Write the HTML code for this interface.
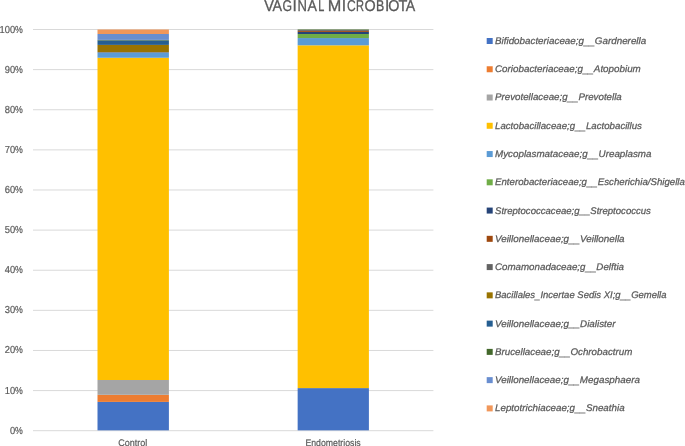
<!DOCTYPE html>
<html><head><meta charset="utf-8"><style>
html,body{margin:0;padding:0;background:#fff;width:685px;height:446px;overflow:hidden}
svg{position:absolute;left:0;top:0}
text{font-family:"Liberation Sans",sans-serif;fill:#595959;text-rendering:geometricPrecision}
.tx{will-change:transform}
.xl{font-size:9.6px !important}
.ax{font-size:10.2px;stroke:#595959;stroke-width:0.2px}
.lg{font-size:9.6px;font-style:italic;stroke:#595959;stroke-width:0.25px}
.tt{font-size:15.6px;stroke:#595959;stroke-width:0.3px}
</style></head><body>
<svg width="685" height="446" viewBox="0 0 685 446">
<line x1="33" x2="433.4" y1="29.50" y2="29.50" stroke="#D9D9D9" stroke-width="1"/>
<line x1="33" x2="433.4" y1="69.62" y2="69.62" stroke="#D9D9D9" stroke-width="1"/>
<line x1="33" x2="433.4" y1="109.74" y2="109.74" stroke="#D9D9D9" stroke-width="1"/>
<line x1="33" x2="433.4" y1="149.86" y2="149.86" stroke="#D9D9D9" stroke-width="1"/>
<line x1="33" x2="433.4" y1="189.98" y2="189.98" stroke="#D9D9D9" stroke-width="1"/>
<line x1="33" x2="433.4" y1="230.10" y2="230.10" stroke="#D9D9D9" stroke-width="1"/>
<line x1="33" x2="433.4" y1="270.22" y2="270.22" stroke="#D9D9D9" stroke-width="1"/>
<line x1="33" x2="433.4" y1="310.34" y2="310.34" stroke="#D9D9D9" stroke-width="1"/>
<line x1="33" x2="433.4" y1="350.46" y2="350.46" stroke="#D9D9D9" stroke-width="1"/>
<line x1="33" x2="433.4" y1="390.58" y2="390.58" stroke="#D9D9D9" stroke-width="1"/>
<line x1="33" x2="433.4" y1="430.70" y2="430.70" stroke="#D9D9D9" stroke-width="1"/>
<rect x="97.5" y="401.90" width="71.4" height="28.45" fill="#4472C4"/>
<rect x="97.5" y="394.80" width="71.4" height="7.10" fill="#ED7D31"/>
<rect x="97.5" y="380.00" width="71.4" height="14.80" fill="#A5A5A5"/>
<rect x="97.5" y="57.75" width="71.4" height="322.25" fill="#FFC000"/>
<rect x="97.5" y="52.60" width="71.4" height="5.15" fill="#5B9BD5"/>
<rect x="97.5" y="52.00" width="71.4" height="0.60" fill="#636363"/>
<rect x="97.5" y="44.90" width="71.4" height="7.10" fill="#997300"/>
<rect x="97.5" y="40.40" width="71.4" height="4.50" fill="#255E91"/>
<rect x="97.5" y="39.90" width="71.4" height="0.50" fill="#43682B"/>
<rect x="97.5" y="34.00" width="71.4" height="5.90" fill="#698ED0"/>
<rect x="97.5" y="29.50" width="71.4" height="4.50" fill="#F1975A"/>
<rect x="297.65" y="388.10" width="71.25" height="42.25" fill="#4472C4"/>
<rect x="297.65" y="45.30" width="71.25" height="342.80" fill="#FFC000"/>
<rect x="297.65" y="38.05" width="71.25" height="7.25" fill="#5B9BD5"/>
<rect x="297.65" y="34.00" width="71.25" height="4.05" fill="#70AD47"/>
<rect x="297.65" y="31.90" width="71.25" height="2.10" fill="#264478"/>
<rect x="297.65" y="30.90" width="71.25" height="1.00" fill="#9E480E"/>
<rect x="297.65" y="30.00" width="71.25" height="0.90" fill="#636363"/>
<rect x="297.65" y="29.50" width="71.25" height="0.50" fill="#43682B"/>
</svg>
<svg class="tx" width="685" height="446" viewBox="0 0 685 446">
<text class="tt" transform="translate(264.13,10.5) scale(0.927,1)">V</text>
<text class="tt" transform="translate(272.57,10.5) scale(0.919,1)">A</text>
<text class="tt" transform="translate(282.59,10.5) scale(0.785,1)">G</text>
<text class="tt" transform="translate(292.53,10.5) scale(1.000,1)">I</text>
<text class="tt" transform="translate(297.43,10.5) scale(0.837,1)">N</text>
<text class="tt" transform="translate(307.57,10.5) scale(0.909,1)">A</text>
<text class="tt" transform="translate(318.31,10.5) scale(0.698,1)">L</text>
<text class="tt" transform="translate(327.76,10.5) scale(1.044,1)">M</text>
<text class="tt" transform="translate(341.73,10.5) scale(1.000,1)">I</text>
<text class="tt" transform="translate(346.99,10.5) scale(0.770,1)">C</text>
<text class="tt" transform="translate(356.09,10.5) scale(0.713,1)">R</text>
<text class="tt" transform="translate(364.43,10.5) scale(0.920,1)">O</text>
<text class="tt" transform="translate(376.08,10.5) scale(0.795,1)">B</text>
<text class="tt" transform="translate(384.98,10.5) scale(1.000,1)">I</text>
<text class="tt" transform="translate(388.33,10.5) scale(0.920,1)">O</text>
<text class="tt" transform="translate(398.48,10.5) scale(0.929,1)">T</text>
<text class="tt" transform="translate(405.67,10.5) scale(0.909,1)">A</text>
<text x="15.10" y="32.50" text-anchor="end" class="ax" textLength="15.60" lengthAdjust="spacingAndGlyphs">100</text>
<text x="15.10" y="32.50" class="ax" textLength="7.80" lengthAdjust="spacingAndGlyphs">%</text>
<text x="15.10" y="72.62" text-anchor="end" class="ax" textLength="10.40" lengthAdjust="spacingAndGlyphs">90</text>
<text x="15.10" y="72.62" class="ax" textLength="7.80" lengthAdjust="spacingAndGlyphs">%</text>
<text x="15.10" y="112.74" text-anchor="end" class="ax" textLength="10.40" lengthAdjust="spacingAndGlyphs">80</text>
<text x="15.10" y="112.74" class="ax" textLength="7.80" lengthAdjust="spacingAndGlyphs">%</text>
<text x="15.10" y="152.86" text-anchor="end" class="ax" textLength="10.40" lengthAdjust="spacingAndGlyphs">70</text>
<text x="15.10" y="152.86" class="ax" textLength="7.80" lengthAdjust="spacingAndGlyphs">%</text>
<text x="15.10" y="192.98" text-anchor="end" class="ax" textLength="10.40" lengthAdjust="spacingAndGlyphs">60</text>
<text x="15.10" y="192.98" class="ax" textLength="7.80" lengthAdjust="spacingAndGlyphs">%</text>
<text x="15.10" y="233.10" text-anchor="end" class="ax" textLength="10.40" lengthAdjust="spacingAndGlyphs">50</text>
<text x="15.10" y="233.10" class="ax" textLength="7.80" lengthAdjust="spacingAndGlyphs">%</text>
<text x="15.10" y="273.22" text-anchor="end" class="ax" textLength="10.40" lengthAdjust="spacingAndGlyphs">40</text>
<text x="15.10" y="273.22" class="ax" textLength="7.80" lengthAdjust="spacingAndGlyphs">%</text>
<text x="15.10" y="313.34" text-anchor="end" class="ax" textLength="10.40" lengthAdjust="spacingAndGlyphs">30</text>
<text x="15.10" y="313.34" class="ax" textLength="7.80" lengthAdjust="spacingAndGlyphs">%</text>
<text x="15.10" y="353.46" text-anchor="end" class="ax" textLength="10.40" lengthAdjust="spacingAndGlyphs">20</text>
<text x="15.10" y="353.46" class="ax" textLength="7.80" lengthAdjust="spacingAndGlyphs">%</text>
<text x="15.10" y="393.58" text-anchor="end" class="ax" textLength="10.40" lengthAdjust="spacingAndGlyphs">10</text>
<text x="15.10" y="393.58" class="ax" textLength="7.80" lengthAdjust="spacingAndGlyphs">%</text>
<text x="15.10" y="433.70" text-anchor="end" class="ax" textLength="5.20" lengthAdjust="spacingAndGlyphs">0</text>
<text x="15.10" y="433.70" class="ax" textLength="7.80" lengthAdjust="spacingAndGlyphs">%</text>
<text x="118.3" y="446.4" class="ax xl" textLength="29.0" lengthAdjust="spacingAndGlyphs">Control</text>
<text x="305.4" y="446.4" class="ax xl" textLength="55.3" lengthAdjust="spacingAndGlyphs">Endometriosis</text>
<rect x="486.7" y="38.00" width="6" height="6" fill="#4472C4"/>
<text x="495.0" y="43.95" class="lg" textLength="151.2" lengthAdjust="spacingAndGlyphs">Bifidobacteriaceae;g<tspan dy="0.9">__</tspan><tspan dy="-0.9">Gardnerella</tspan></text>
<rect x="486.7" y="66.26" width="6" height="6" fill="#ED7D31"/>
<text x="495.0" y="72.21" class="lg" textLength="145.8" lengthAdjust="spacingAndGlyphs">Coriobacteriaceae;g<tspan dy="0.9">__</tspan><tspan dy="-0.9">Atopobium</tspan></text>
<rect x="486.7" y="94.52" width="6" height="6" fill="#A5A5A5"/>
<text x="495.0" y="100.47" class="lg" textLength="126.8" lengthAdjust="spacingAndGlyphs">Prevotellaceae;g<tspan dy="0.9">__</tspan><tspan dy="-0.9">Prevotella</tspan></text>
<rect x="486.7" y="122.78" width="6" height="6" fill="#FFC000"/>
<text x="495.0" y="128.73" class="lg" textLength="146.9" lengthAdjust="spacingAndGlyphs">Lactobacillaceae;g<tspan dy="0.9">__</tspan><tspan dy="-0.9">Lactobacillus</tspan></text>
<rect x="486.7" y="151.05" width="6" height="6" fill="#5B9BD5"/>
<text x="495.0" y="157.00" class="lg" textLength="156.5" lengthAdjust="spacingAndGlyphs">Mycoplasmataceae;g<tspan dy="0.9">__</tspan><tspan dy="-0.9">Ureaplasma</tspan></text>
<rect x="486.7" y="179.31" width="6" height="6" fill="#70AD47"/>
<text x="495.0" y="185.26" class="lg" textLength="189.9" lengthAdjust="spacingAndGlyphs">Enterobacteriaceae;g<tspan dy="0.9">__</tspan><tspan dy="-0.9">Escherichia/Shigella</tspan></text>
<rect x="486.7" y="207.57" width="6" height="6" fill="#264478"/>
<text x="495.0" y="213.52" class="lg" textLength="155.9" lengthAdjust="spacingAndGlyphs">Streptococcaceae;g<tspan dy="0.9">__</tspan><tspan dy="-0.9">Streptococcus</tspan></text>
<rect x="486.7" y="235.83" width="6" height="6" fill="#9E480E"/>
<text x="495.0" y="241.78" class="lg" textLength="129.6" lengthAdjust="spacingAndGlyphs">Veillonellaceae;g<tspan dy="0.9">__</tspan><tspan dy="-0.9">Veillonella</tspan></text>
<rect x="486.7" y="264.09" width="6" height="6" fill="#636363"/>
<text x="495.0" y="270.04" class="lg" textLength="129.0" lengthAdjust="spacingAndGlyphs">Comamonadaceae;g<tspan dy="0.9">__</tspan><tspan dy="-0.9">Delftia</tspan></text>
<rect x="486.7" y="292.35" width="6" height="6" fill="#997300"/>
<text x="495.0" y="298.30" class="lg" textLength="171.5" lengthAdjust="spacingAndGlyphs">Bacillales<tspan dy="0.9">_</tspan><tspan dy="-0.9">Incertae</tspan> Sedis XI;g<tspan dy="0.9">__</tspan><tspan dy="-0.9">Gemella</tspan></text>
<rect x="486.7" y="320.62" width="6" height="6" fill="#255E91"/>
<text x="495.0" y="326.57" class="lg" textLength="120.6" lengthAdjust="spacingAndGlyphs">Veillonellaceae;g<tspan dy="0.9">__</tspan><tspan dy="-0.9">Dialister</tspan></text>
<rect x="486.7" y="348.88" width="6" height="6" fill="#43682B"/>
<text x="495.0" y="354.83" class="lg" textLength="137.3" lengthAdjust="spacingAndGlyphs">Brucellaceae;g<tspan dy="0.9">__</tspan><tspan dy="-0.9">Ochrobactrum</tspan></text>
<rect x="486.7" y="377.14" width="6" height="6" fill="#698ED0"/>
<text x="495.0" y="383.09" class="lg" textLength="144.9" lengthAdjust="spacingAndGlyphs">Veillonellaceae;g<tspan dy="0.9">__</tspan><tspan dy="-0.9">Megasphaera</tspan></text>
<rect x="486.7" y="405.40" width="6" height="6" fill="#F1975A"/>
<text x="495.0" y="411.35" class="lg" textLength="129.6" lengthAdjust="spacingAndGlyphs">Leptotrichiaceae;g<tspan dy="0.9">__</tspan><tspan dy="-0.9">Sneathia</tspan></text>
</svg>
</body></html>
